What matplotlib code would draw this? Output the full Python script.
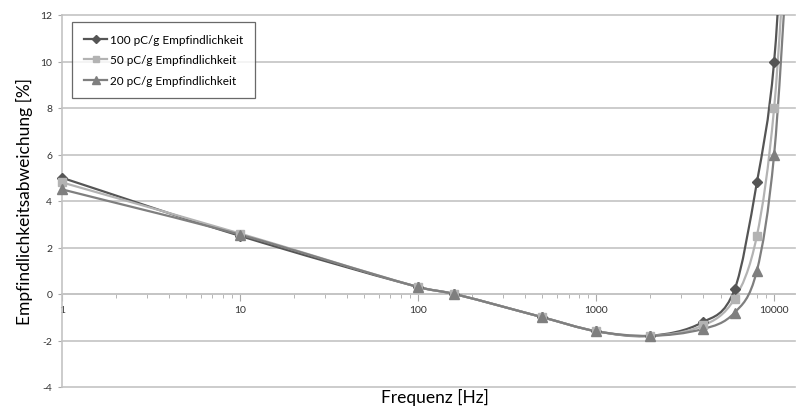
import numpy as np
import matplotlib.pyplot as plt
from matplotlib.path import Path
from matplotlib.patches import PathPatch
from matplotlib.lines import Line2D
from matplotlib.ticker import FixedLocator, LogLocator, NullFormatter

plt.rcParams['font.family'] = ['Lato', 'DejaVu Sans']

# Werte
freq = [1, 10, 100, 160, 500, 1000, 2000, 4000, 6000, 8000, 10000, 12000]
dev_100 = [5.0, 2.5, 0.3, 0.0, -1.0, -1.6, -1.8, -1.2, 0.2, 4.8, 10.0, 20.0]
dev_50 = [4.8, 2.6, 0.3, 0.0, -1.0, -1.6, -1.8, -1.35, -0.2, 2.5, 8.0, 17.0]
dev_20 = [4.5, 2.55, 0.3, 0.0, -1.0, -1.6, -1.8, -1.5, -0.8, 1.0, 6.0, 15.0]
labels = ['100 pC/g Empfindlichkeit', '50 pC/g Empfindlichkeit', '20 pC/g Empfindlichkeit']
xticks = [1, 10, 100, 1000, 10000]
yticks = [-4, -2, 0, 2, 4, 6, 8, 10, 12]


def smooth_path(xs, ys):
    # geglaettete Linie wie in Excel: Bezier-Kurve in log(x)
    lx = np.log10(xs)
    y = np.asarray(ys, dtype=float)
    n = len(lx)
    m = np.zeros(n)
    for i in range(n):
        a = max(i - 1, 0)
        b = min(i + 1, n - 1)
        m[i] = (y[b] - y[a]) / (lx[b] - lx[a])
    verts = [(xs[0], y[0])]
    codes = [Path.MOVETO]
    for i in range(n - 1):
        h = lx[i + 1] - lx[i]
        verts.append((10 ** (lx[i] + h / 3), y[i] + m[i] * h / 3))
        verts.append((10 ** (lx[i + 1] - h / 3), y[i + 1] - m[i + 1] * h / 3))
        verts.append((xs[i + 1], y[i + 1]))
        codes += [Path.CURVE4] * 3
    return Path(verts, codes)


fig = plt.figure(figsize=(7.98, 4.10), dpi=100)
ax = fig.add_axes([62 / 798, 22 / 410, 733 / 798, 372 / 410])
ax.set_xscale('log')
ax.set_xlim(1, 13100)
ax.set_ylim(-4, 12)

series = [
    (dev_100, '#555555', 'D', 5),
    (dev_50, '#b3b3b3', 's', 6),
    (dev_20, '#7f7f7f', '^', 6.5),
]
handles = []
for (vals, col, mk, ms), lab in zip(series, labels):
    ax.add_patch(PathPatch(smooth_path(freq, vals), fill=False, edgecolor=col, lw=1.6, zorder=3))
    fx = [f for f, v in zip(freq, vals) if v <= 12]
    fv = [v for v in vals if v <= 12]
    ax.plot(fx, fv, linestyle='none', marker=mk, color=col, markersize=ms, zorder=4, clip_on=False)
    handles.append(Line2D([], [], color=col, lw=1.6, marker=mk, markersize=ms - 1))

ax.yaxis.set_major_locator(FixedLocator(yticks))
ax.set_yticklabels([str(t) for t in yticks])
ax.grid(axis='y', color='#c4c4c4', lw=1.2)
ax.set_axisbelow(True)
for g in ax.get_ygridlines():
    g.set_clip_on(False)

ax.spines['top'].set_visible(False)
ax.spines['right'].set_visible(False)
ax.spines['left'].set_color('#c4c4c4')
ax.spines['left'].set_linewidth(1.2)
ax.spines['bottom'].set_position(('data', 0))
ax.spines['bottom'].set_color('#c4c4c4')
ax.spines['bottom'].set_linewidth(1.2)

ax.xaxis.set_major_locator(FixedLocator(xticks))
ax.set_xticklabels([str(t) for t in xticks])
ax.xaxis.set_minor_locator(LogLocator(base=10, subs=np.arange(2, 10)))
ax.xaxis.set_minor_formatter(NullFormatter())
ax.tick_params(axis='x', which='major', length=5, color='#aaaaaa', labelsize=7.5,
               labelcolor='#333333', pad=3)
ax.tick_params(axis='x', which='minor', length=3, color='#aaaaaa')
ax.tick_params(axis='y', length=3, color='#aaaaaa', labelsize=7.5, labelcolor='#333333', pad=4)

ax.set_ylabel('Empfindlichkeitsabweichung [%]', fontsize=12.5, labelpad=5)
fig.text(435 / 798, 1 - 389 / 410, 'Frequenz [Hz]', ha='center', va='top', fontsize=12.5)

leg = ax.legend(handles, labels, loc='upper left', bbox_to_anchor=(10 / 733, (388 - 23) / 372),
                borderaxespad=0, fontsize=8.5, frameon=True, fancybox=False,
                handlelength=2.0, handletextpad=0.25, labelspacing=0.8,
                borderpad=1.0)
leg.get_frame().set_edgecolor('#444444')
leg.get_frame().set_linewidth(0.9)

fig.savefig('out.png', dpi=100)
